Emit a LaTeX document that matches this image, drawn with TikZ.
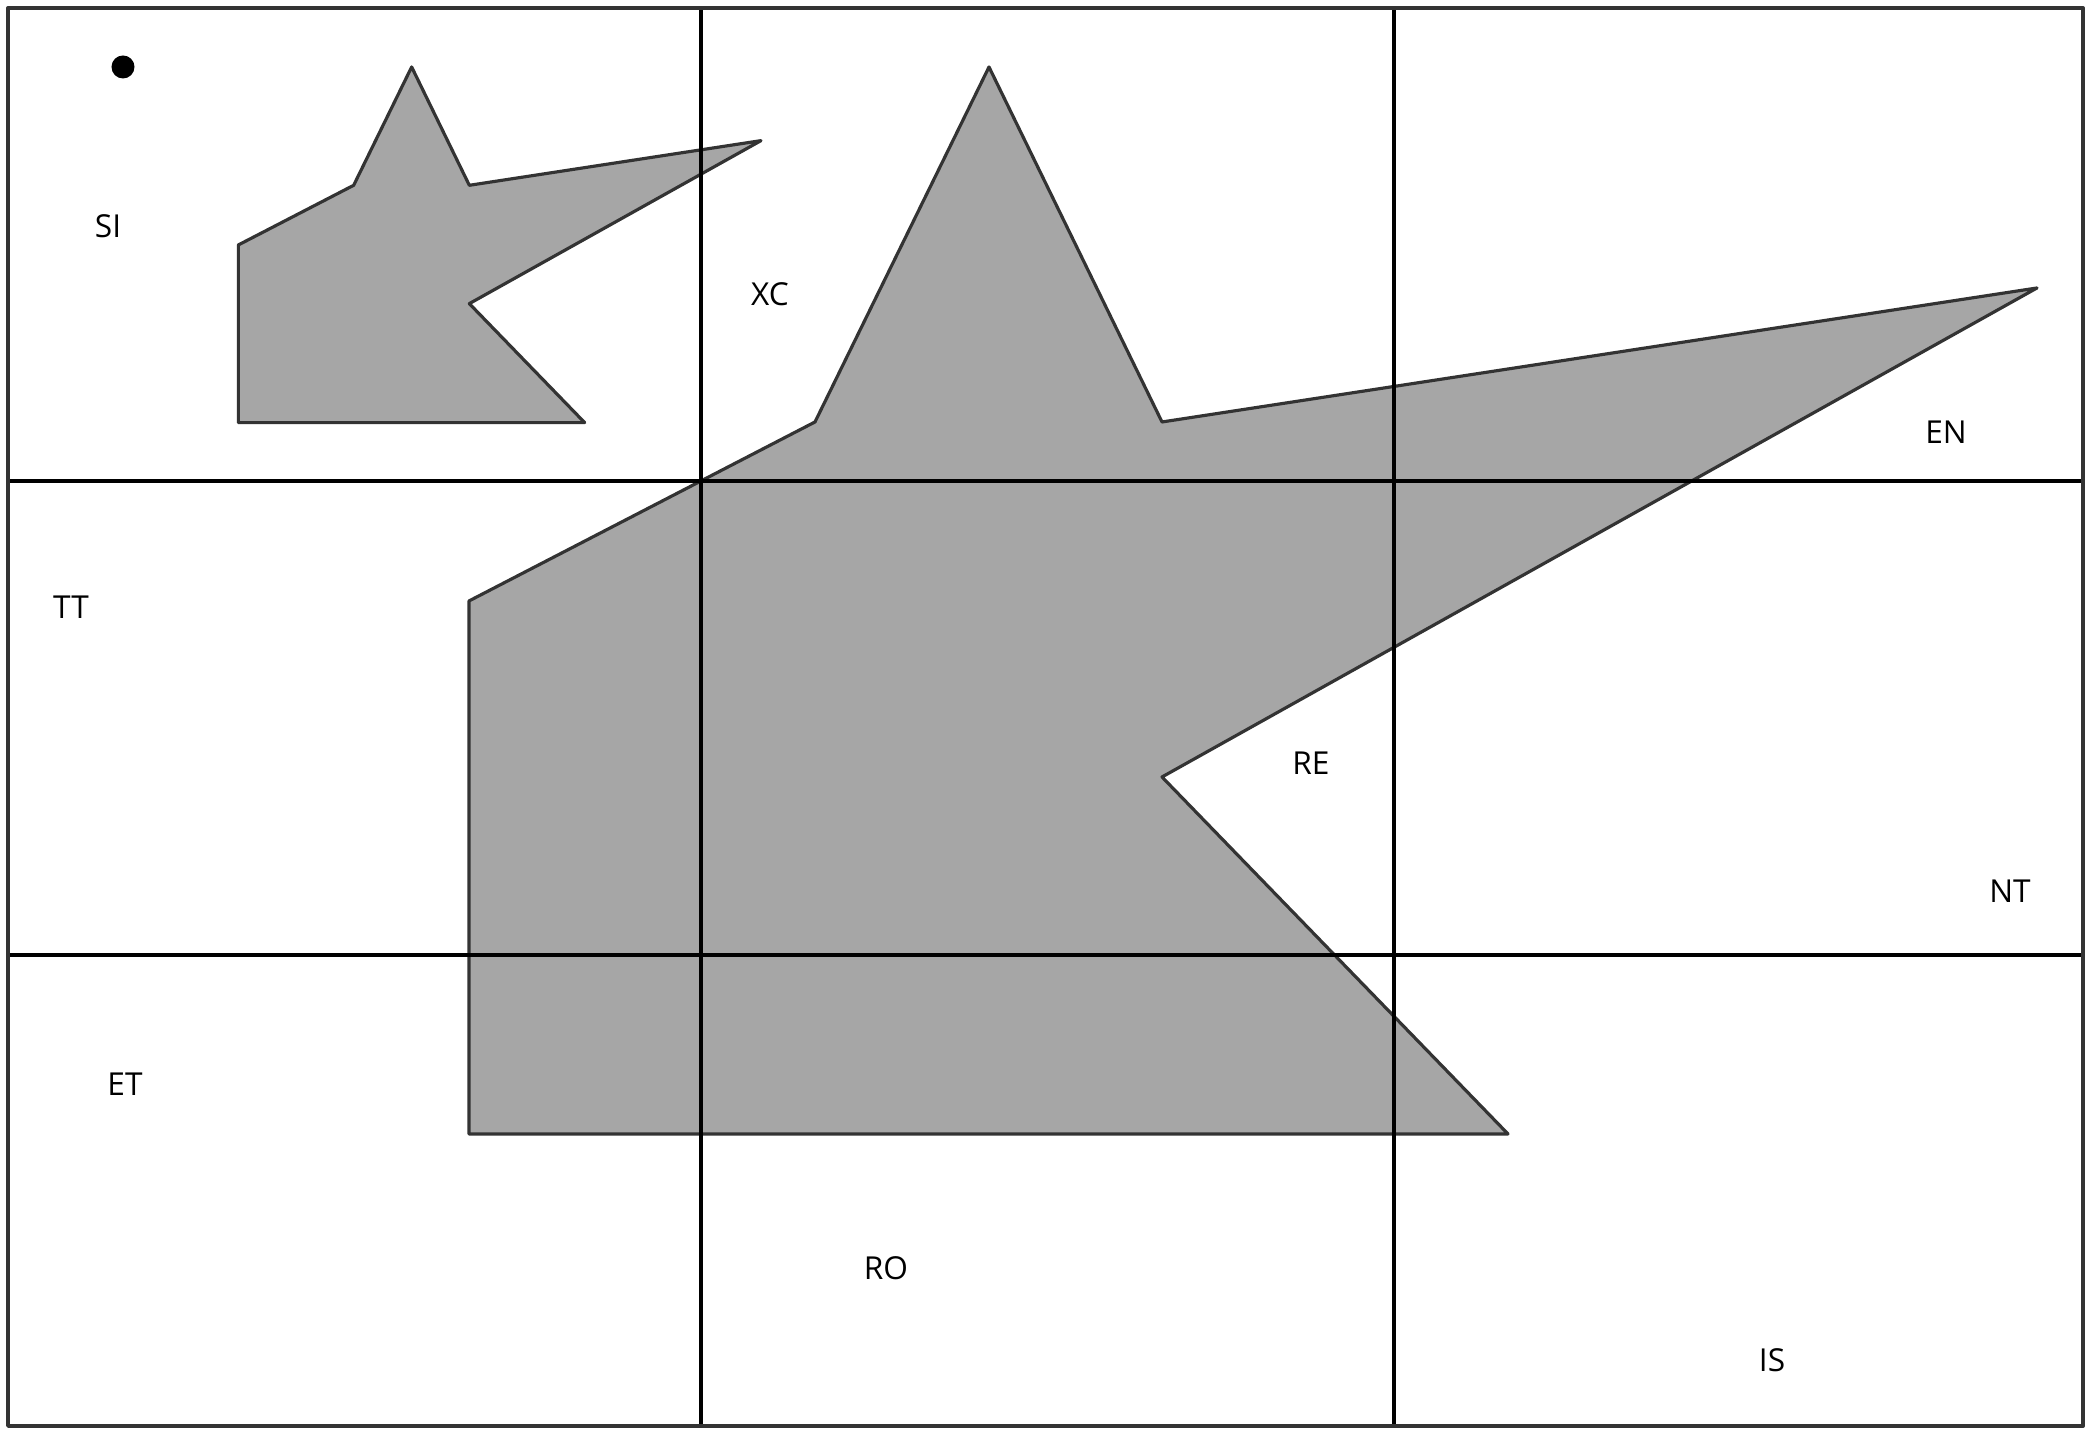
\documentclass[tikz,border=0pt]{standalone}
\usepackage{fontspec}
\setmainfont{Open Sans}
\usetikzlibrary{calc}

\begin{document}
\begin{tikzpicture}[line join=round,
    hinh/.style={fill=black!35, draw=black!80, line width=0.9pt},
    nhan/.style={font=\fontsize{9}{10}\selectfont, inner sep=0pt}]
    \useasboundingbox (0,0) rectangle (20.89,14.30);

    % Tâm vị tự
    \coordinate (O) at (1.23,13.63);

    % Đa giác lớn
    \coordinate (A) at (4.69,2.96);
    \coordinate (B) at (4.69,8.29);
    \coordinate (C) at (8.15,10.08);
    \coordinate (D) at (9.89,13.63);
    \coordinate (E) at (11.62,10.08);
    \coordinate (F) at (20.37,11.42);
    \coordinate (G) at (11.62,6.53);
    \coordinate (H) at (15.08,2.96);
    \filldraw[hinh] (A) -- (B) -- (C) -- (D) -- (E) -- (F) -- (G) -- (H) -- cycle;

    % Ảnh qua phép vị tự tỉ số 1/3
    \foreach \p in {A,B,C,D,E,F,G,H}
        \coordinate (s\p) at ($(O)!1/3!(\p)$);
    \filldraw[hinh] (sA) -- (sB) -- (sC) -- (sD) -- (sE) -- (sF) -- (sG) -- (sH) -- cycle;

    % Lưới 3x3
    \foreach \x in {7.01,13.94}
        \draw[line width=1.1pt] (\x,0.04) -- (\x,14.22);
    \foreach \y in {4.75,9.49}
        \draw[line width=1.1pt] (0.08,\y) -- (20.83,\y);
    \draw[black!80, line width=1.1pt] (0.08,0.04) rectangle (20.83,14.22);

    \fill (O) circle (0.115);

    % Nhãn các ô
    \node[nhan] (si) at (1.08,12.04) {SI};
    \node[nhan] (xc) at (7.70,11.36) {XC};
    \node[nhan] (en) at (19.46,9.98) {EN};
    \node[nhan] (tt) at (0.71,8.23) {TT};
    \node[nhan] (re) at (13.11,6.67) {RE};
    \node[nhan] (nt) at (20.10,5.39) {NT};
    \node[nhan] (et) at (1.25,3.46) {ET};
    \node[nhan] (ro) at (8.86,1.62) {RO};
    \node[nhan] (is) at (17.72,0.70) {IS};
\end{tikzpicture}
\end{document}
